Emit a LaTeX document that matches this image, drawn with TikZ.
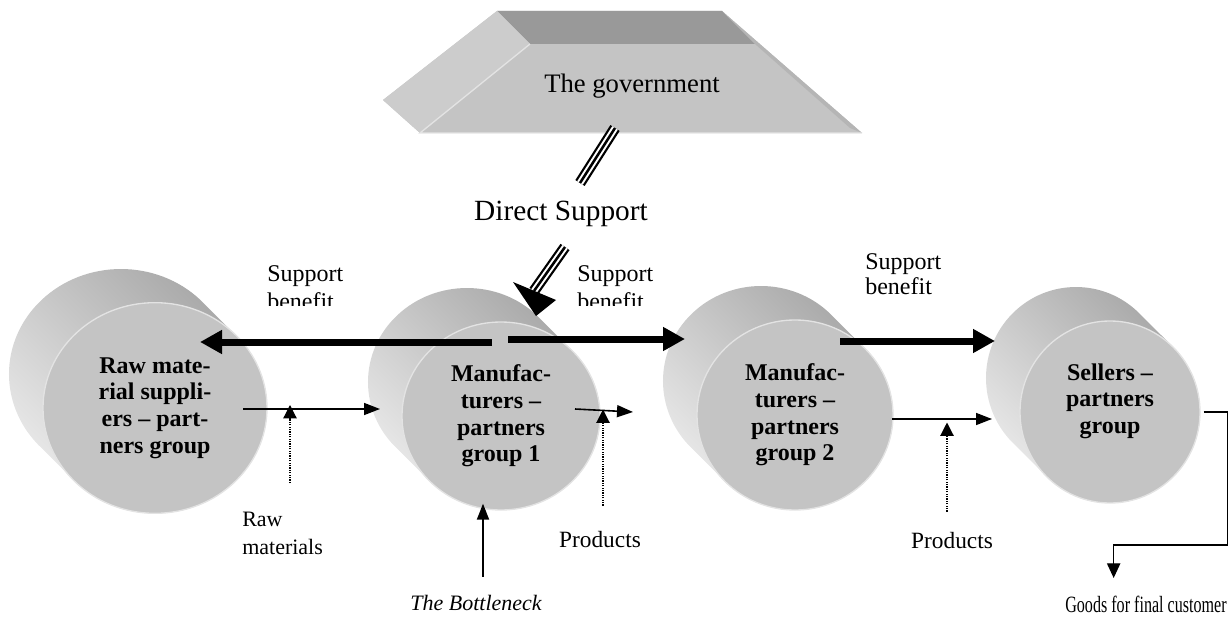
\documentclass[tikz,border=0pt]{standalone}
\usepackage{fontspec}
\setmainfont{Liberation Serif}
\usetikzlibrary{shapes.geometric,positioning,arrows.meta,calc}

\begin{document}
\begin{tikzpicture}[x=0.75pt,y=-0.75pt,
  disc/.style={ellipse,fill=gray!46,draw=gray!22,line width=1pt,inner sep=0pt,align=center,font=\bfseries\fontsize{18}{20}\selectfont},
  side/.style={top color=gray!72,bottom color=gray!14,shading angle=-45},
  lbl/.style={align=left,inner sep=0pt,font=\fontsize{17.5}{21}\selectfont},
  sblbl/.style={lbl,anchor=north west,font=\fontsize{18}{18.75}\selectfont},
  benefit/.style={line width=5.25pt,-{Triangle[length=16.5pt,width=17pt]}},
  flow/.style={line width=1.2pt,-{Triangle[length=12pt,width=9pt]}},
  dots/.style={line width=0.9pt,dash pattern=on 0.9pt off 0.9pt,-{Triangle[length=10pt,width=10pt]}},
  triple/.style={line width=8.25pt,postaction={draw=white,line width=4.9pt},postaction={draw=black,line width=1.9pt}}]

\useasboundingbox (0,0) rectangle (1229,617);

% the government
\fill[gray!46] (383,100) -- (497,11) -- (722,11) -- (862,133) -- (420,133) -- cycle;
\fill[gray!80] (497,11) -- (722,11) -- (755,44) -- (530,44) -- cycle;
\fill[gray!40] (497,11) -- (530,44) -- (420,133) -- (383,100) -- cycle;
\fill[gray!58] (722,11) -- (862,133) -- (850,128) -- (755,44) -- cycle;
\draw[gray!22,line width=1pt] (530,44) -- (420,133) -- (862,133);
\node[font=\fontsize{20}{24}\selectfont] (gov) at (632,86) {The government};

% cylinders
\foreach \cx/\cy/\rx/\ry in {155/408/112/105,501/416/99/94,795/415/98/95,1110/412/90/91}
  \shade[side] (\cx-34+0.707*\rx,\cy-34-0.707*\ry) arc[start angle=-45,end angle=-225,x radius=\rx,y radius=\ry]
    -- (\cx-0.707*\rx,\cy+0.707*\ry) arc[start angle=135,end angle=-45,x radius=\rx,y radius=\ry] -- cycle;

\node[disc,minimum width=168pt,minimum height=158pt] (raw) at (155,408) {Raw mate-\\rial suppli-\\ers – part-\\ners group};
\node[disc,minimum width=148.5pt,minimum height=141pt] (man1) at (501,416) {Manufac-\\turers –\\partners\\group 1};
\node[disc,minimum width=147pt,minimum height=142.5pt] (man2) at (795,415) {Manufac-\\turers –\\partners\\group 2};
\node[disc,minimum width=135pt,minimum height=136.5pt] (sell) at (1110,412) {Sellers –\\partners\\group\\\mbox{}};

% direct support
\node[font=\fontsize{22}{26}\selectfont] (direct) at (561,214) {Direct Support};
\coordinate (govfoot) at (615,128);
\coordinate (dtop) at (580,183);
\coordinate (dfoot) at (565,247);
\coordinate (dhead) at (534,291);
\draw[triple] (govfoot) -- (dtop);
\draw[triple] (dfoot) -- (dhead);
\fill (513,282) -- (556,300) -- (536,316) -- cycle;

% support benefit
\draw[benefit] ($(man1.center)+(-9,-74)$) -- ($(raw.center)+(45,-66)$);
\draw[benefit] ($(man1.center)+(7,-77)$) -- ($(man2.center)+(-110,-76)$);
\draw[benefit] ($(man2.center)+(45,-74)$) -- ($(sell.center)+(-115,-71)$);
\begin{scope}
  \clip (250,240) rectangle (700,305);
  \node[sblbl,font=\fontsize{18}{21}\selectfont] (sb1) at (267,265.5) {Support\\benefit};
  \node[sblbl,font=\fontsize{18}{21}\selectfont] (sb2) at (577,265) {Support\\benefit};
\end{scope}
\node[sblbl] (sb3) at (865,253.5) {Support\\benefit};

% goods flow
\draw[flow] ($(raw.center)+(88,1)$) -- ($(man1.center)+(-121,-7)$);
\draw[flow] ($(man1.center)+(74,-7)$) -- ($(man2.center)+(-162,-3)$);
\draw[flow] ($(man2.center)+(97,4)$) -- ($(sell.center)+(-118,7)$);

\node[lbl,anchor=north west,font=\fontsize{16.5}{21}\selectfont] (rawmat) at (242,512) {Raw\\materials};
\node[lbl] (prod1) at (600,540) {Products};
\node[lbl] (prod2) at (952,541) {Products};
\node[lbl,font=\itshape\fontsize{16.5}{20}\selectfont] (neck) at (476,603) {The Bottleneck};
\node[lbl] (goods) at (1146,604) {\scalebox{0.69}[1]{Goods for final customer}};

\draw[dots] ($(rawmat.north west)+(48,-29)$) -- ++(0,-78);
\draw[dots] ($(prod1.north)+(3,-26)$) -- ++(0,-96);
\draw[dots] ($(prod2.north)+(-5,-21)$) -- ++(0,-89);
\draw[flow,line width=1.5pt] ($(neck.north)+(7,-18)$) -- ($(man1.south)+(-18,-7)$);
\draw[line width=0.9pt,-{Triangle[length=11pt,width=10pt]}] ($(sell.east)+(3,0)$) -- ++(24,0) -- ++(0,133) -- ++(-114,0) -- ++(0,33);

\end{tikzpicture}
\end{document}
